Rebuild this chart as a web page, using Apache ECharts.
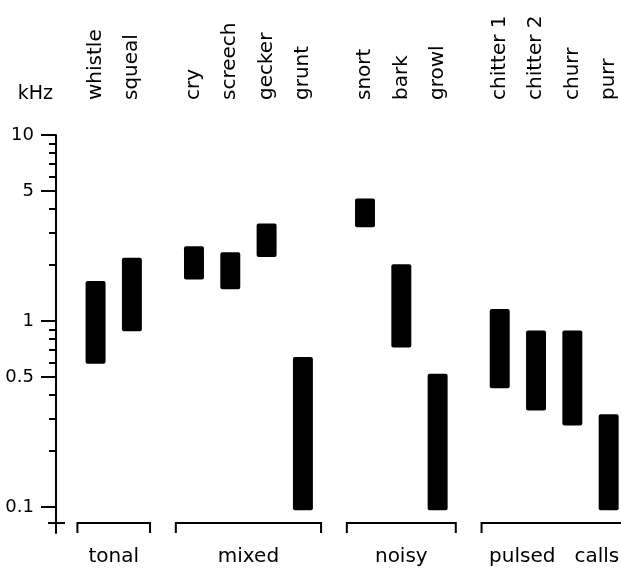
<!DOCTYPE html>
<html>
<head>
<meta charset="utf-8">
<script src="https://cdn.jsdelivr.net/npm/echarts@6/dist/echarts.min.js"></script>
<style>
  html, body { margin: 0; padding: 0; background: #fff; }
  #chart { width: 621px; height: 569px; }
</style>
</head>
<body>
<div id="chart"></div>
<script>
// call types, the group each belongs to, and their frequency range (kHz)
const calls = ['whistle', 'squeal', 'cry', 'screech', 'gecker', 'grunt', 'snort', 'bark', 'growl', 'chitter 1', 'chitter 2', 'churr', 'purr']
const callGroup = [0, 0, 1, 1, 1, 1, 2, 2, 2, 3, 3, 3, 3]
const groups = ['tonal', 'mixed', 'noisy', 'pulsed   calls']
const lowKHz = [0.59, 0.88, 1.67, 1.48, 2.21, 0.096, 3.19, 0.72, 0.096, 0.435, 0.33, 0.274, 0.096]
const highKHz = [1.64, 2.19, 2.52, 2.34, 3.34, 0.64, 4.55, 2.02, 0.52, 1.16, 0.89, 0.89, 0.315]

// y axis ticks
const majorTicks = [0.1, 0.5, 1, 5, 10]
const minorTicks = [0.2, 0.3, 0.4, 0.6, 0.7, 0.8, 0.9, 2, 3, 4, 6, 7, 8, 9]

const font = 'DejaVu Sans'
const groupGap = 0.71
const barWidth = 0.55
const xMin = -1.09
const xMax = 14.47
const yMin = 0.0725
const yMax = 10
const bracketKHz = 0.082

const slotPos = calls.map((c, i) => i + callGroup[i] * groupGap)

const barData = calls.map((c, i) => [slotPos[i], lowKHz[i], highKHz[i]])
const bracketData = groups.map((g, gi) => {
  const idx = callGroup.map((v, i) => (v === gi ? i : -1)).filter(i => i >= 0)
  return [slotPos[idx[0]] - 0.5, slotPos[idx[idx.length - 1]] + 0.5]
})

const chart = echarts.init(document.getElementById('chart'))

chart.setOption({
  backgroundColor: '#fff',
  animation: false,
  grid: {
    left: 56,
    right: 0,
    top: 135,
    bottom: 36,
    containLabel: false,
    outerBoundsMode: 'none'
  },
  xAxis: {
    type: 'value',
    position: 'top',
    min: xMin,
    max: xMax,
    axisLine: { show: false, onZero: false },
    axisTick: { show: false },
    splitLine: { show: false },
    axisLabel: {
      customValues: slotPos,
      rotate: -90,
      margin: 35,
      fontFamily: font,
      fontSize: 20,
      color: '#000',
      formatter: v => {
        let best = 0
        slotPos.forEach((p, i) => {
          if (Math.abs(p - v) < Math.abs(slotPos[best] - v)) best = i
        })
        return calls[best]
      }
    }
  },
  yAxis: [{
    type: 'log',
    min: yMin,
    max: yMax,
    name: 'kHz',
    nameLocation: 'end',
    nameGap: 31,
    nameMoveOverlap: false,
    nameTextStyle: {
      fontFamily: font,
      fontSize: 19,
      color: '#000',
      align: 'right',
      verticalAlign: 'bottom',
      padding: [0, 3, 0, 0]
    },
    axisLine: { show: true, onZero: false, lineStyle: { color: '#000', width: 2 } },
    axisTick: {
      show: true,
      customValues: majorTicks,
      length: 15,
      lineStyle: { color: '#000', width: 2 }
    },
    axisLabel: {
      customValues: majorTicks,
      margin: 22,
      fontFamily: font,
      fontSize: 18,
      color: '#000',
      formatter: v => String(+v.toPrecision(3))
    },
    splitLine: { show: false }
  }, {
    type: 'log',
    min: yMin,
    max: yMax,
    position: 'left',
    axisLine: { show: false, onZero: false },
    axisTick: {
      show: true,
      customValues: minorTicks,
      length: 7,
      lineStyle: { color: '#000', width: 2 }
    },
    axisLabel: { show: false },
    splitLine: { show: false }
  }],
  series: [{
    type: 'custom',
    name: 'range',
    data: barData,
    encode: { x: 0, y: [1, 2] },
    renderItem(params, api) {
      const x = api.value(0)
      const top = api.coord([x, api.value(2)])
      const bottom = api.coord([x, api.value(1)])
      const w = api.coord([x + barWidth / 2, 1])[0] - api.coord([x - barWidth / 2, 1])[0]
      return {
        type: 'rect',
        shape: { x: top[0] - w / 2, y: top[1], width: w, height: bottom[1] - top[1], r: 2 },
        style: { fill: '#000' }
      }
    }
  }, {
    type: 'custom',
    name: 'groups',
    data: bracketData,
    encode: { x: [0, 1] },
    clip: false,
    renderItem(params, api) {
      const a = api.coord([api.value(0), bracketKHz])
      const b = api.coord([api.value(1), bracketKHz])
      const children = [{
        type: 'polyline',
        shape: { points: [[a[0], a[1] + 10], [a[0], a[1]], [b[0], b[1]], [b[0], b[1] + 10]] },
        style: { stroke: '#000', lineWidth: 2, fill: null }
      }, {
        type: 'text',
        style: {
          text: groups[params.dataIndex],
          x: (a[0] + b[0]) / 2,
          y: a[1] + 34,
          align: 'center',
          verticalAlign: 'middle',
          font: '20px "' + font + '"',
          fill: '#000'
        }
      }]
      if (params.dataIndex === 0) {
        // the cross mark on the y axis at bracket level
        const c = api.coord([xMin, bracketKHz])
        children.push({
          type: 'line',
          shape: { x1: c[0] - 8, y1: c[1], x2: c[0] + 9, y2: c[1] },
          style: { stroke: '#000', lineWidth: 2 }
        })
      }
      return { type: 'group', children }
    }
  }]
})
</script>
</body>
</html>
